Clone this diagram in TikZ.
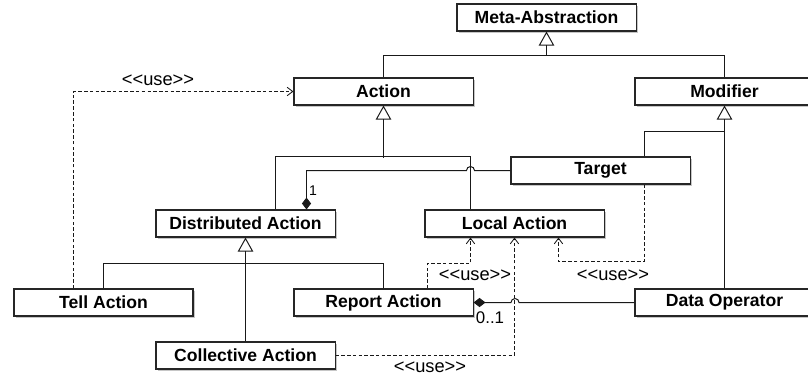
\documentclass[tikz,border=0pt]{standalone}
\usepackage{fontspec}
\setmainfont{Liberation Sans}
\usetikzlibrary{arrows.meta,shadows,calc}

\tikzset{
  classbox/.style={draw=black!85, fill=white, line width=0.75pt,
    minimum width=4.475cm, minimum height=0.675cm, inner sep=0pt,
    font=\fontsize{12.5}{15}\selectfont\bfseries,
    drop shadow={shadow xshift=1.3pt, shadow yshift=-1.6pt, opacity=0.45}},
  link/.style={draw=black!90, line width=0.7pt},
  gen/.style={link, -{Triangle[open,length=10pt,width=11pt]}},
  comp/.style={link, -{Diamond[length=8.5pt,width=6.5pt]}},
  dep/.style={draw=black!90, line width=0.6pt, dash pattern=on 2.5pt off 1.6pt,
    -{Straight Barb[length=4pt,width=6pt]}},
  tag/.style={font=\fontsize{13}{15}\selectfont, inner sep=0pt},
}
\newcommand{\usetag}{<\kern0pt<use>\kern0pt>}

\begin{document}
\begin{tikzpicture}[x=0.025cm,y=-0.025cm]
    \useasboundingbox (0,0) rectangle (808,378);
    % classes
    \node[classbox] (meta) at (546.5,17.5) {Meta-Abstraction};
    \node[classbox] (action) at (383.5,91.5) {Action};
    \node[classbox] (modifier) at (724.5,91.5) {Modifier};
    \node[classbox] (target) at (600.5,170.5) {Target};
    \node[classbox] (distributed) at (245.5,223.5) {Distributed Action};
    \node[classbox] (local) at (514.5,223.5) {Local Action};
    \node[classbox] (tell) at (103.5,302.5) {Tell Action};
    \node[classbox] (report) at (383.5,302.5) {Report Action};
    \node[classbox] (collective) at (245.5,355.5) {Collective Action};
    \node[classbox] (dataop) at (724.5,302.5) {Data Operator};
    % junctions
    \coordinate (metajoin) at (546.5,55.5);
    \coordinate (actjoin) at (383.5,157.5);
    \coordinate (distjoin) at (245.5,263.5);
    \coordinate (modjoin) at (724.5,131.5);
    % generalisations
    \draw[gen] (metajoin) -- (meta);
    \draw[link] (action) |- (metajoin) -| (modifier);
    \draw[gen] (actjoin) -- (action);
    \draw[link] ($(distributed.north)+(30,0)$) |- ($(local.north)+(-44,-52.5)$) -- ($(local.north)+(-44,0)$);
    \draw[gen] (collective) -- (distributed);
    \draw[link] (tell) |- (distjoin) -| (report);
    \draw[gen] (dataop) -- (modifier);
    \draw[link] ($(target.north)+(44,0)$) |- (modjoin);
    % compositions
    \draw[comp] (target.west) -- (474.5,170.5) arc[start angle=0,end angle=180,radius=0.1cm] -- (306.5,170.5) -- ($(distributed.north)+(61,0)$);
    \draw[comp] (dataop.west) -- (519,302.5) arc[start angle=0,end angle=180,radius=0.1cm] -- (report.east);
    % uses
    \draw[dep] ($(tell.north)+(-30,0)$) |- (action.west);
    \draw[dep] ($(report.north)+(44,0)$) |- (470.5,263.5) -- ($(local.south)+(-44,0)$);
    \draw[dep] ($(target.south)+(44,0)$) |- (558.5,261.5) -- ($(local.south)+(44,0)$);
    \draw[dep] (collective.east) -| (local.south);
    % labels
    \node[tag] (usetell) at (158,80) {\usetag};
    \node[tag] (usereport) at (475,275) {\usetag};
    \node[tag] (usetarget) at (613,275) {\usetag};
    \node[tag] (usecoll) at (430,367) {\usetag};
    \node[tag, font=\fontsize{10}{12}\selectfont] (one) at (313,191) {1};
    \node[tag, font=\fontsize{12}{14}\selectfont] (zeroone) at (490,318) {0..1};
\end{tikzpicture}
\end{document}
